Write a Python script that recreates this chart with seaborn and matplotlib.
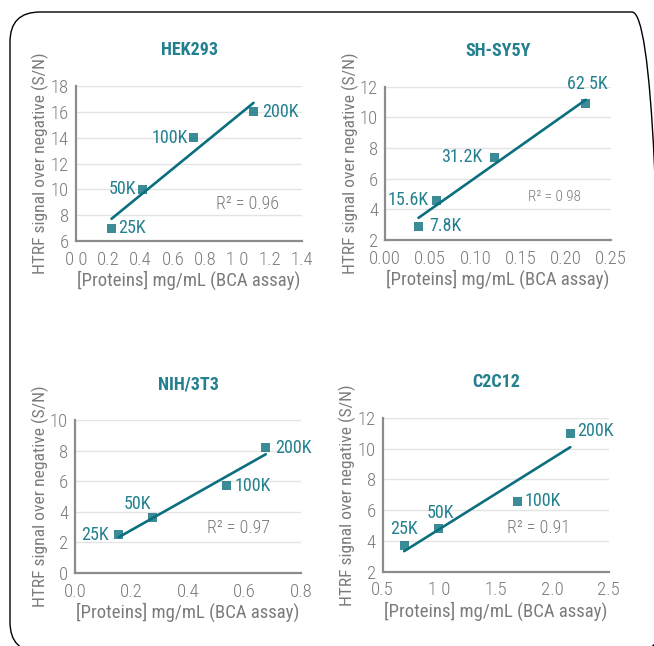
import matplotlib
matplotlib.use('Agg')
import matplotlib.pyplot as plt
import seaborn as sns
from matplotlib.patches import FancyBboxPatch

# ---- data ----
hek_x = [0.22, 0.41, 0.73, 1.10]
hek_y = [7.0, 10.0, 14.0, 16.0]
hek_labels = ['25K', '50K', '100K', '200K']
hek_r2 = 'R² = 0.96'
hek_xticks = [0.0, 0.2, 0.4, 0.6, 0.8, 1.0, 1.2, 1.4]
hek_xticklabels = ['0 0', '0.2', '0.4', '0.6', '0.8', '1 0', '1.2', '1.4']
hek_yticks = [6, 8, 10, 12, 14, 16, 18]

sh_x = [0.037, 0.057, 0.121, 0.222]
sh_y = [2.9, 4.6, 7.4, 10.9]
sh_labels = ['7.8K', '15.6K', '31.2K', '62 5K']
sh_r2 = 'R² = 0 98'
sh_xticks = [0.0, 0.05, 0.10, 0.15, 0.20, 0.25]
sh_xticklabels = ['0.00', '0.05', '0.10', '0.15', '0.20', '0.25']
sh_yticks = [2, 4, 6, 8, 10, 12]

nih_x = [0.155, 0.275, 0.535, 0.675]
nih_y = [2.5, 3.6, 5.7, 8.2]
nih_labels = ['25K', '50K', '100K', '200K']
nih_r2 = 'R² = 0.97'
nih_xticks = [0.0, 0.2, 0.4, 0.6, 0.8]
nih_xticklabels = ['0.0', '0.2', '0.4', '0.6', '0.8']
nih_yticks = [0, 2, 4, 6, 8, 10]

c2_x = [0.69, 0.99, 1.69, 2.16]
c2_y = [3.7, 4.8, 6.6, 11.0]
c2_labels = ['25K', '50K', '100K', '200K']
c2_r2 = 'R² = 0.91'
c2_xticks = [0.5, 1.0, 1.5, 2.0, 2.5]
c2_xticklabels = ['0.5', '1 0', '1.5', '2.0', '2.5']
c2_yticks = [2, 4, 6, 8, 10, 12]

TEAL = '#0b6f7e'
TEAL_TXT = '#23808f'
GRAY = '#8c8c8c'
GRAY_TXT = '#7b7b7b'

sns.set_theme(style='white')
# condensed faces first, whichever is installed
plt.rcParams['font.family'] = ['Roboto Condensed', 'DejaVu Sans Condensed',
                               'Liberation Sans Narrow', 'Roboto', 'DejaVu Sans']

fig = plt.figure(figsize=(6.54, 6.46), dpi=100)

# rounded frame (pixel coords), runs off the right and bottom edges
frame = FancyBboxPatch((10, -6), 652, 640, boxstyle='round,pad=0,rounding_size=30',
                       transform=None, fill=False, edgecolor='black', linewidth=1.0,
                       clip_on=False)
fig.patches.append(frame)

panels = [
    dict(title='HEK293', x=hek_x, y=hek_y, labels=hek_labels, r2=hek_r2,
         xticks=hek_xticks, xticklabels=hek_xticklabels, yticks=hek_yticks,
         rect=[0.1162, 0.6269, 0.3456, 0.2400], r2_pos=(1.06, 8.9), r2_size=13,
         offsets=[(5, 0, 'left'), (-4, 0, 'right'), (-4, 0, 'right'), (6, 0, 'left')]),
    dict(title='SH-SY5Y', x=sh_x, y=sh_y, labels=sh_labels, r2=sh_r2,
         xticks=sh_xticks, xticklabels=sh_xticklabels, yticks=sh_yticks,
         rect=[0.5887, 0.6285, 0.3456, 0.2373], r2_pos=(0.188, 4.8), r2_size=11,
         offsets=[(8, 0, 'left'), (-6, 0, 'right'), (-9, 0, 'right'), (1, 14, 'center')]),
    dict(title='NIH/3T3', x=nih_x, y=nih_y, labels=nih_labels, r2=nih_r2,
         xticks=nih_xticks, xticklabels=nih_xticklabels, yticks=nih_yticks,
         rect=[0.1147, 0.1130, 0.3456, 0.2368], r2_pos=(0.578, 2.93), r2_size=13,
         offsets=[(-7, 0, 'right'), (-11, 10, 'center'), (6, 0, 'left'), (7, 0, 'left')]),
    dict(title='C2C12', x=c2_x, y=c2_y, labels=c2_labels, r2=c2_r2,
         xticks=c2_xticks, xticklabels=c2_xticklabels, yticks=c2_yticks,
         rect=[0.5852, 0.1150, 0.3456, 0.2379], r2_pos=(1.877, 4.85), r2_size=13,
         offsets=[(0, 12, 'center'), (2, 11, 'center'), (5, 0, 'left'), (5, 2, 'left')]),
]

for p in panels:
    ax = fig.add_axes(p['rect'])

    # points + least-squares line (truncated to the data range)
    sns.regplot(x=p['x'], y=p['y'], ax=ax, ci=None, marker='s',
                scatter_kws=dict(s=42, color=TEAL, edgecolor='none', zorder=4),
                line_kws=dict(color=TEAL, linewidth=1.9, zorder=3))

    ax.set_xlim(p['xticks'][0], p['xticks'][-1])
    ax.set_ylim(p['yticks'][0], p['yticks'][-1])
    ax.set_xticks(p['xticks'])
    ax.set_xticklabels(p['xticklabels'])
    ax.set_yticks(p['yticks'])

    ax.yaxis.grid(True, color='#e4e4e4', linewidth=1.0)
    ax.xaxis.grid(False)
    ax.set_axisbelow(True)
    sns.despine(ax=ax)
    for side in ['left', 'bottom']:
        ax.spines[side].set_color(GRAY)
        ax.spines[side].set_linewidth(1.6)

    ax.tick_params(axis='both', colors=GRAY, labelcolor=GRAY_TXT, labelsize=13.5, length=0)
    ax.tick_params(axis='x', pad=7)
    ax.tick_params(axis='y', pad=5)
    for lab in ax.get_xticklabels() + ax.get_yticklabels():
        lab.set_fontweight('light')
    # round dots sitting on the axis at each tick
    for t in ax.xaxis.get_major_ticks() + ax.yaxis.get_major_ticks():
        t.tick1line.set_marker('o')
        t.tick1line.set_markersize(6)
        t.tick1line.set_markerfacecolor(GRAY)
        t.tick1line.set_markeredgecolor(GRAY)
        t.tick1line.set_clip_on(False)

    ax.set_title(p['title'], color=TEAL_TXT, fontsize=13, fontweight='bold', pad=22)
    ax.set_xlabel('[Proteins] mg/mL (BCA assay)', color=GRAY_TXT, fontsize=13.5, labelpad=1.5)
    ax.set_ylabel('HTRF signal over negative (S/N)', color=GRAY_TXT, fontsize=12.6, labelpad=1)

    for xv, yv, lab, (dx, dy, ha) in zip(p['x'], p['y'], p['labels'], p['offsets']):
        ax.annotate(lab, (xv, yv), xytext=(dx, dy), textcoords='offset points',
                    ha=ha, va='center', color=TEAL_TXT, fontsize=13, zorder=5)

    ax.text(p['r2_pos'][0], p['r2_pos'][1], p['r2'], color=GRAY_TXT, fontweight='light',
            fontsize=p['r2_size'], ha='center', va='center')

fig.savefig('out.png', dpi=100)
